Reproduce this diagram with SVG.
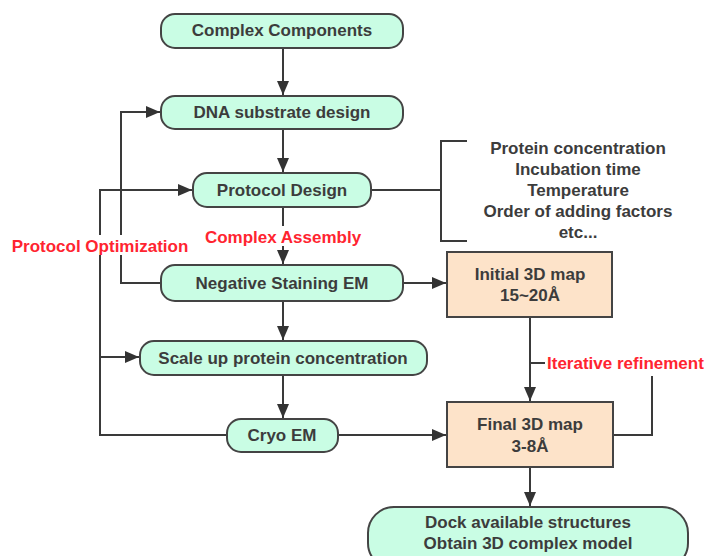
<svg xmlns="http://www.w3.org/2000/svg" width="707" height="556" viewBox="0 0 707 556">
<style>
.n{fill:#c9fde4;stroke:#444;stroke-width:2}
.o{fill:#fde3c9;stroke:#444;stroke-width:2}
.t{font-family:"Liberation Sans",Arial,sans-serif;font-weight:bold;font-size:17px;fill:#3c3c3c;text-anchor:middle}
.r{font-family:"Liberation Sans",Arial,sans-serif;font-weight:bold;font-size:17px;fill:#ff2430;text-anchor:middle}
.c{fill:none;stroke:#3a3a3a;stroke-width:2}
</style>
<defs>
<marker id="a" viewBox="0 0 14 12" refX="14" refY="6" markerWidth="14" markerHeight="12" markerUnits="userSpaceOnUse" orient="auto">
<path d="M0,0 L14,6 L0,12 Z" fill="#333"/>
</marker>
</defs>
<rect width="707" height="556" fill="#fff"/>
<g id="connectors">
<path class="c" d="M283,48 V95" marker-end="url(#a)"/>
<path class="c" d="M283,129 V172" marker-end="url(#a)"/>
<path class="c" d="M283,207 V264" marker-end="url(#a)"/>
<path class="c" d="M283,301 V340" marker-end="url(#a)"/>
<path class="c" d="M283,375 V418" marker-end="url(#a)"/>
<path class="c" d="M161,283 H121 V112 H160" marker-end="url(#a)"/>
<path class="c" d="M227,435 H100 V190 H192" marker-end="url(#a)"/>
<path class="c" d="M100,357 H139" marker-end="url(#a)"/>
<path class="c" d="M403,283 H446" marker-end="url(#a)"/>
<path class="c" d="M338,435 H446" marker-end="url(#a)"/>
<path class="c" d="M530,317 V401" marker-end="url(#a)"/>
<path class="c" d="M530,363 H545"/>
<path class="c" d="M613,435 H652 V376"/>
<path class="c" d="M530,467 V506" marker-end="url(#a)"/>
<path class="c" d="M371,190 H441"/>
<path class="c" d="M467,141 H441 V241 H467"/>
<rect x="200" y="226" width="166" height="20" fill="#fff"/>
<text class="r" x="283" y="243">Complex Assembly</text>
<rect x="8" y="235" width="188" height="20" fill="#fff"/>
<text class="r" x="100" y="252">Protocol Optimization</text>
<text class="r" x="547" y="369" style="text-anchor:start">Iterative refinement</text>
</g>
<g id="complex-components"><rect class="n" x="161" y="14" width="242" height="34" rx="14"/><text class="t" x="282" y="36">Complex Components</text></g>
<g id="dna-substrate"><rect class="n" x="161" y="96" width="242" height="33" rx="14"/><text class="t" x="282" y="118">DNA substrate design</text></g>
<g id="protocol-design"><rect class="n" x="193" y="173" width="178" height="34" rx="14"/><text class="t" x="282" y="196">Protocol Design</text></g>
<g id="negative-staining"><rect class="n" x="161" y="265" width="242" height="36" rx="14"/><text class="t" x="282" y="289">Negative Staining EM</text></g>
<g id="scale-up"><rect class="n" x="140" y="341" width="287" height="34" rx="14"/><text class="t" x="283" y="364">Scale up protein concentration</text></g>
<g id="cryo-em"><rect class="n" x="227" y="419" width="111" height="33" rx="14"/><text class="t" x="282" y="441">Cryo EM</text></g>
<g id="initial-map"><rect class="o" x="447" y="252" width="165" height="65"/><text class="t" x="530" y="280">Initial 3D map</text><text class="t" x="530" y="301">15~20Å</text></g>
<g id="final-map"><rect class="o" x="447" y="402" width="166" height="65"/><text class="t" x="530" y="430">Final 3D map</text><text class="t" x="530" y="452">3-8Å</text></g>
<g id="dock"><rect class="n" x="368" y="507" width="320" height="62" rx="26"/><text class="t" x="528" y="528">Dock available structures</text><text class="t" x="528" y="549">Obtain 3D complex model</text></g>
<g id="parameters">
<text class="t" x="578" y="154">Protein concentration</text>
<text class="t" x="578" y="175">Incubation time</text>
<text class="t" x="578" y="196">Temperature</text>
<text class="t" x="578" y="217">Order of adding factors</text>
<text class="t" x="578" y="238">etc...</text>
</g>
</svg>
